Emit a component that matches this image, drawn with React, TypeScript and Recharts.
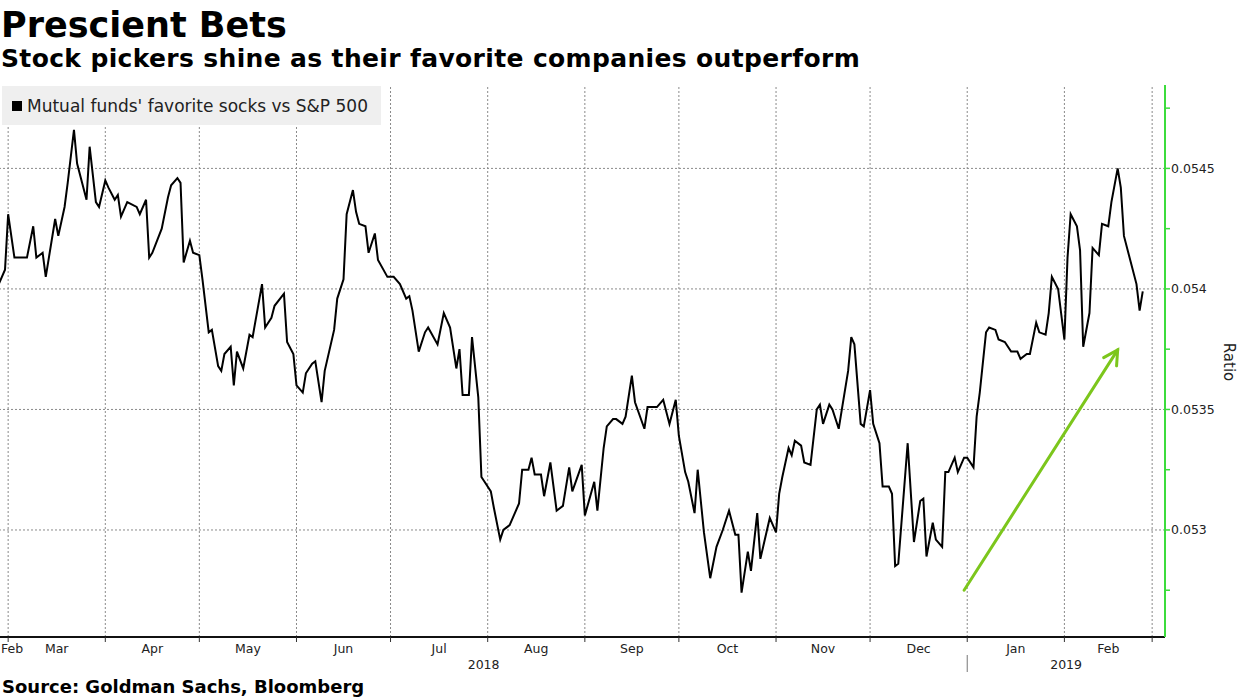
import { LineChart, Line, XAxis, YAxis, ReferenceLine } from 'recharts';

// x = days since 2018-03-01, y = ratio of funds' favorite stocks vs S&P 500
const days = [
  -3, -1, 0, 2, 6, 8, 9, 11, 12, 13, 15, 16, 18, 19, 21, 22, 25, 26, 28, 29,
  31, 32, 34, 35, 36, 38, 41, 42, 44, 45, 46, 49, 51, 52, 54, 55, 56, 58, 59,
  61, 62, 64, 65, 67, 68, 69, 71, 72, 73, 75, 77, 78, 81, 82, 84, 85, 88, 89,
  91, 92, 94, 95, 97, 98, 100, 101, 104, 105, 107, 108, 110, 111, 112, 114, 115,
  117, 118, 121, 123, 125, 127, 128, 129, 131, 133, 134, 137, 139, 141, 143, 144,
  145, 147, 148, 150, 151, 152, 154, 155, 157, 158, 160, 163, 164, 166, 167, 168,
  170, 171, 173, 175, 177, 179, 180, 183, 184, 187, 188, 190, 191, 193, 194, 196,
  197, 199, 200, 203, 204, 207, 209, 211, 213, 214, 216, 217, 219, 220, 222, 224,
  226, 228, 230, 232, 233, 234, 236, 237, 239, 240, 243, 245, 246, 247, 249, 250,
  251, 253, 254, 256, 258, 259, 260, 262, 263, 265, 266, 268, 269, 270, 272, 273,
  275, 276, 278, 279, 281, 282, 283, 284, 287, 289, 291, 292, 293, 295, 296, 298,
  299, 300, 302, 303, 305, 306, 308, 309, 310, 312, 313, 315, 316, 318, 320, 322,
  323, 325, 326, 328, 329, 331, 332, 333, 335, 337, 338, 339, 341, 342, 343, 345,
  346, 348, 349, 351, 352, 354, 355, 356, 360, 361, 362,
];

const ratio = [
  0.05402, 0.05408, 0.05431, 0.05413, 0.05413, 0.05426, 0.05413, 0.05415, 0.05405, 0.05413,
  0.05429, 0.05422, 0.05434, 0.05444, 0.05466, 0.05452, 0.05437, 0.05459, 0.05436, 0.05434,
  0.05445, 0.05442, 0.05437, 0.05439, 0.0543, 0.05436, 0.05434, 0.05431, 0.05437, 0.05413,
  0.05415, 0.05425, 0.05438, 0.05443, 0.05446, 0.05444, 0.05411, 0.0542, 0.05415,
  0.05414, 0.05404, 0.05382, 0.05383, 0.05368, 0.05366, 0.05373, 0.05376, 0.0536, 0.05374,
  0.05367, 0.05381, 0.0538, 0.05402, 0.05384, 0.05388, 0.05393, 0.05398, 0.05378,
  0.05373, 0.0536, 0.05357, 0.05365, 0.05369, 0.0537, 0.05353, 0.05366, 0.05383, 0.05396,
  0.05404, 0.05431, 0.05441, 0.05432, 0.05427, 0.05426, 0.05415,
  0.05423, 0.05412, 0.05405, 0.05405, 0.05402, 0.05396, 0.05397, 0.05391, 0.05374, 0.05382,
  0.05384, 0.05377, 0.0539, 0.05384, 0.05367, 0.05375,
  0.05356, 0.05356, 0.0538, 0.05355, 0.05322, 0.0532, 0.05316, 0.05309, 0.05296, 0.053,
  0.05302, 0.05311, 0.05325, 0.05325, 0.0533, 0.05323,
  0.05323, 0.05314, 0.05328, 0.05308, 0.0531, 0.05326, 0.05316, 0.05327, 0.05306, 0.0532,
  0.05308, 0.05334, 0.05343, 0.05346, 0.05346, 0.05344,
  0.05347, 0.05364, 0.05353, 0.05342, 0.05351, 0.05351, 0.05354, 0.05344, 0.05354, 0.05339,
  0.05324, 0.0532, 0.05307, 0.05325, 0.05299, 0.0528,
  0.05293, 0.053, 0.05308, 0.05298, 0.05298, 0.05274, 0.05291, 0.05283, 0.05307, 0.05288,
  0.05305, 0.05299, 0.05315, 0.05322, 0.05334, 0.05331,
  0.05337, 0.05335, 0.05328, 0.05327, 0.0535, 0.05352, 0.05344, 0.05352, 0.0535, 0.05342,
  0.0535, 0.05366, 0.0538, 0.05377, 0.05344, 0.05343,
  0.05358, 0.05344, 0.05336, 0.05318, 0.05318, 0.05315, 0.05285, 0.05286, 0.05336, 0.05295,
  0.05312, 0.05313, 0.05289, 0.05303, 0.05296, 0.05293,
  0.05324, 0.05324, 0.0533, 0.05324, 0.0533, 0.0533, 0.05326, 0.05347, 0.05357, 0.05382,
  0.05384, 0.05383, 0.05379, 0.05378, 0.05374, 0.05374,
  0.05371, 0.05373, 0.05373, 0.05386, 0.05382, 0.05381, 0.0539, 0.05405, 0.054, 0.05379,
  0.05413, 0.05431, 0.05426, 0.05416, 0.05376, 0.0539,
  0.05417, 0.05414, 0.05427, 0.05426, 0.05436, 0.0545, 0.05442, 0.05422, 0.05402, 0.05391,
  0.05399,
];

const MONTH_STARTS = [0, 31, 61, 92, 122, 153, 184, 214, 245, 275, 306, 337, 365];
const MONTH_LABELS = ['Mar', 'Apr', 'May', 'Jun', 'Jul', 'Aug', 'Sep', 'Oct', 'Nov', 'Dec', 'Jan', 'Feb'];
const FIRST_LABEL = 'Feb';
const YEAR_BREAK = 306;
const YEAR_LABELS = ['2018', '2019'];

const Y_MAJOR = [0.053, 0.0535, 0.054, 0.0545];
const Y_MINOR = [0.05275, 0.05325, 0.05375, 0.05425, 0.05475];

// hand-drawn trend arrow (data coords)
const TREND = [
  { x: 305, y: 0.05275 },
  { x: 354, y: 0.053747 },
];

const X_MIN = -2.6;
const X_MAX = 369.1;
const Y_MIN = 0.052556;
const Y_MAX = 0.054846;

const W = 1240;
const H = 697;
const TOP = 85;
const PLOT_RIGHT = 1165;
const AXIS_H = 60;
const PX_PER_DAY = PLOT_RIGHT / (X_MAX - X_MIN);

const GREEN = '#3cdc3c';
const GRID = '#8a8a8a';

const rows = days.map((d, i) => ({ d, v: ratio[i] }));

function MonthTick(props: any) {
  const { x, y, payload } = props;
  const v = payload.value;
  const i = MONTH_STARTS.indexOf(v);
  const xOf = (d: number) => x + (d - v) * PX_PER_DAY;
  const items: any[] = [];
  if (i < MONTH_LABELS.length) {
    const next = MONTH_STARTS[i + 1];
    items.push(
      <text key="m" x={xOf((v + next) / 2)} y={y} dy="0.71em" textAnchor="middle" fontSize={12.5} fill="#222">
        {MONTH_LABELS[i]}
      </text>
    );
  }
  if (i === 0) {
    items.push(
      <text key="f" x={xOf(X_MIN) + 1} y={y} dy="0.71em" textAnchor="start" fontSize={12.5} fill="#222">
        {FIRST_LABEL}
      </text>
    );
    items.push(
      <text key="y0" x={xOf((X_MIN + YEAR_BREAK) / 2)} y={y + 16} dy="0.71em" textAnchor="middle" fontSize={12.5} fill="#222">
        {YEAR_LABELS[0]}
      </text>
    );
  }
  if (v === YEAR_BREAK) {
    items.push(<line key="sep" x1={x} x2={x} y1={y + 11} y2={y + 28} stroke="#777" strokeWidth={1} />);
    items.push(
      <text key="y1" x={xOf((YEAR_BREAK + X_MAX) / 2)} y={y + 16} dy="0.71em" textAnchor="middle" fontSize={12.5} fill="#222">
        {YEAR_LABELS[1]}
      </text>
    );
  }
  return <g>{items}</g>;
}

function RatioTick(props: any) {
  const { x, y, payload } = props;
  if (!Y_MAJOR.includes(payload.value)) return <g />;
  return (
    <text x={x} y={y} dy="0.355em" textAnchor="start" fontSize={12.5} fill="#222">
      {String(payload.value)}
    </text>
  );
}

function TrendArrow(props: any) {
  const { x1, y1, x2, y2 } = props;
  if (x1 == null) return null;
  const ang = Math.atan2(y2 - y1, x2 - x1);
  const len = 16;
  const a1 = ang + Math.PI - 0.5;
  const a2 = ang + Math.PI + 0.5;
  return (
    <g stroke="#7cc61c" strokeWidth={3} fill="none" strokeLinecap="round">
      <line x1={x1} y1={y1} x2={x2} y2={y2} />
      <polyline
        points={`${x2 + len * Math.cos(a1)},${y2 + len * Math.sin(a1)} ${x2},${y2} ${x2 + len * Math.cos(a2)},${y2 + len * Math.sin(a2)}`}
      />
    </g>
  );
}

export default function App() {
  return (
    <div
      style={{
        position: 'absolute',
        left: 0,
        top: 0,
        width: W,
        height: H,
        background: '#fff',
        fontFamily: '"DejaVu Sans", sans-serif',
        overflow: 'hidden',
      }}
    >
      <div style={{ position: 'absolute', left: 1, top: 5, fontSize: 35, fontWeight: 'bold', lineHeight: '40px', color: '#000', whiteSpace: 'nowrap' }}>
        Prescient Bets
      </div>
      <div
        style={{
          position: 'absolute',
          left: 1,
          top: 44,
          fontSize: 25,
          letterSpacing: 0.35,
          fontWeight: 'bold',
          lineHeight: '30px',
          color: '#000',
          whiteSpace: 'nowrap',
        }}
      >
        Stock pickers shine as their favorite companies outperform
      </div>

      <div style={{ position: 'absolute', left: 0, top: 0 }}>
        <LineChart width={W} height={H} data={rows} margin={{ top: TOP, right: 0, left: 0, bottom: 0 }}>
          <XAxis
            dataKey="d"
            type="number"
            domain={[X_MIN, X_MAX]}
            allowDataOverflow
            ticks={MONTH_STARTS}
            interval={0}
            height={AXIS_H}
            tickSize={5}
            tickMargin={2}
            axisLine={{ stroke: '#111', strokeWidth: 2 }}
            tickLine={{ stroke: '#333' }}
            tick={<MonthTick />}
          />
          <YAxis
            orientation="right"
            type="number"
            domain={[Y_MIN, Y_MAX]}
            allowDataOverflow
            ticks={[...Y_MINOR, ...Y_MAJOR].sort((a, b) => a - b)}
            interval={0}
            width={W - PLOT_RIGHT}
            tickSize={5}
            tickMargin={1}
            axisLine={{ stroke: GREEN, strokeWidth: 2 }}
            tickLine={{ stroke: GREEN, strokeWidth: 1.5 }}
            tick={<RatioTick />}
          />
          {MONTH_STARTS.map((m) => (
            <ReferenceLine key={'vx' + m} x={m} stroke={GRID} strokeDasharray="2 2" />
          ))}
          {Y_MAJOR.map((t) => (
            <ReferenceLine key={'hy' + t} y={t} stroke={GRID} strokeDasharray="2 2" />
          ))}
          <Line
            type="linear"
            dataKey="v"
            stroke="#000"
            strokeWidth={2}
            dot={false}
            isAnimationActive={false}
          />
          <ReferenceLine segment={TREND} shape={<TrendArrow />} ifOverflow="visible" />
        </LineChart>
      </div>

      <div
        style={{
          position: 'absolute',
          left: 2,
          top: 86,
          width: 379,
          height: 39,
          background: '#efefef',
          display: 'flex',
          alignItems: 'center',
          fontSize: 17,
          color: '#222',
          whiteSpace: 'nowrap',
        }}
      >
        <span style={{ display: 'inline-block', width: 10, height: 10, background: '#000', marginLeft: 10, marginRight: 5 }} />
        Mutual funds' favorite socks vs S&amp;P 500
      </div>

      <div
        style={{
          position: 'absolute',
          left: 1229,
          top: 362,
          transform: 'translate(-50%, -50%) rotate(90deg)',
          fontSize: 15,
          color: '#222',
          whiteSpace: 'nowrap',
        }}
      >
        Ratio
      </div>

      <div style={{ position: 'absolute', left: 2, top: 676, fontSize: 18, fontWeight: 'bold', lineHeight: '22px', color: '#000', whiteSpace: 'nowrap' }}>
        Source: Goldman Sachs, Bloomberg
      </div>
    </div>
  );
}
